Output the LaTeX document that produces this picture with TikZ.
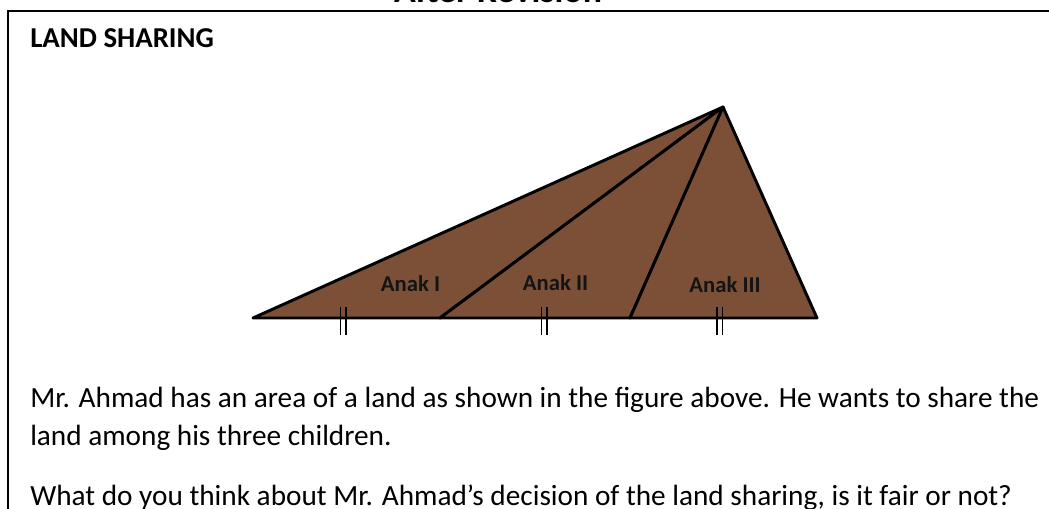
\documentclass[tikz,border=0pt]{standalone}
\usepackage{fontspec}
\setmainfont{Carlito}
\definecolor{land}{RGB}{123,80,55}
\definecolor{ink}{RGB}{20,20,20}
\begin{document}
\begin{tikzpicture}[x=0.75pt,y=-0.75pt,
  body/.style={anchor=base west,inner sep=0,font=\fontsize{21.95pt}{26pt}\selectfont},
  piece/.style={fill=land,draw=black,line width=2.2pt,line join=round},
  label/.style={anchor=base,inner sep=0,text=ink,font=\bfseries\fontsize{17pt}{20pt}\selectfont},
  tick/.style={draw=black,line width=0.8pt}]
\useasboundingbox (0,0) rectangle (1049,509);
% frame
\draw[line width=1.5pt] (7.5,540) -- (7.5,11.5) -- (1080,11.5);
% cut-off heading
\node[anchor=base,inner sep=0,font=\bfseries\fontsize{26.9pt}{30pt}\selectfont] (head) at (498,3) {After Revision};
\node[anchor=base west,inner sep=0,font=\bfseries\fontsize{21.6pt}{26pt}\selectfont] (title) at (30,48) {LAND SHARING};
% land
\coordinate (L) at (253,318);
\coordinate (P) at (440,318);
\coordinate (Q) at (630,318);
\coordinate (R) at (817,318);
\coordinate (T) at (723,107);
\path[piece] (L) -- (T) -- (P) -- cycle;
\path[piece] (P) -- (T) -- (Q) -- cycle;
\path[piece] (Q) -- (T) -- (R) -- cycle;
% equal-length ticks
\foreach \x in {340.5,346,541.5,547,717,722.5}{
  \draw[tick] (\x,307) -- (\x,335);
}
\node[label] (a1) at (410.5,292) {Anak I};
\node[label] (a2) at (555.5,291) {Anak II};
\node[label] (a3) at (725,293) {Anak III};
% text
\node[body] (t1) at (30,407) {Mr. Ahmad has an area of a land as shown in the figure above. He wants to share the};
\node[body] (t2) at (30,445) {land among his three children.};
\node[body] (t3) at (30,505) {What do you think about Mr. Ahmad’s decision of the land sharing, is it fair or not?};
\end{tikzpicture}
\end{document}
